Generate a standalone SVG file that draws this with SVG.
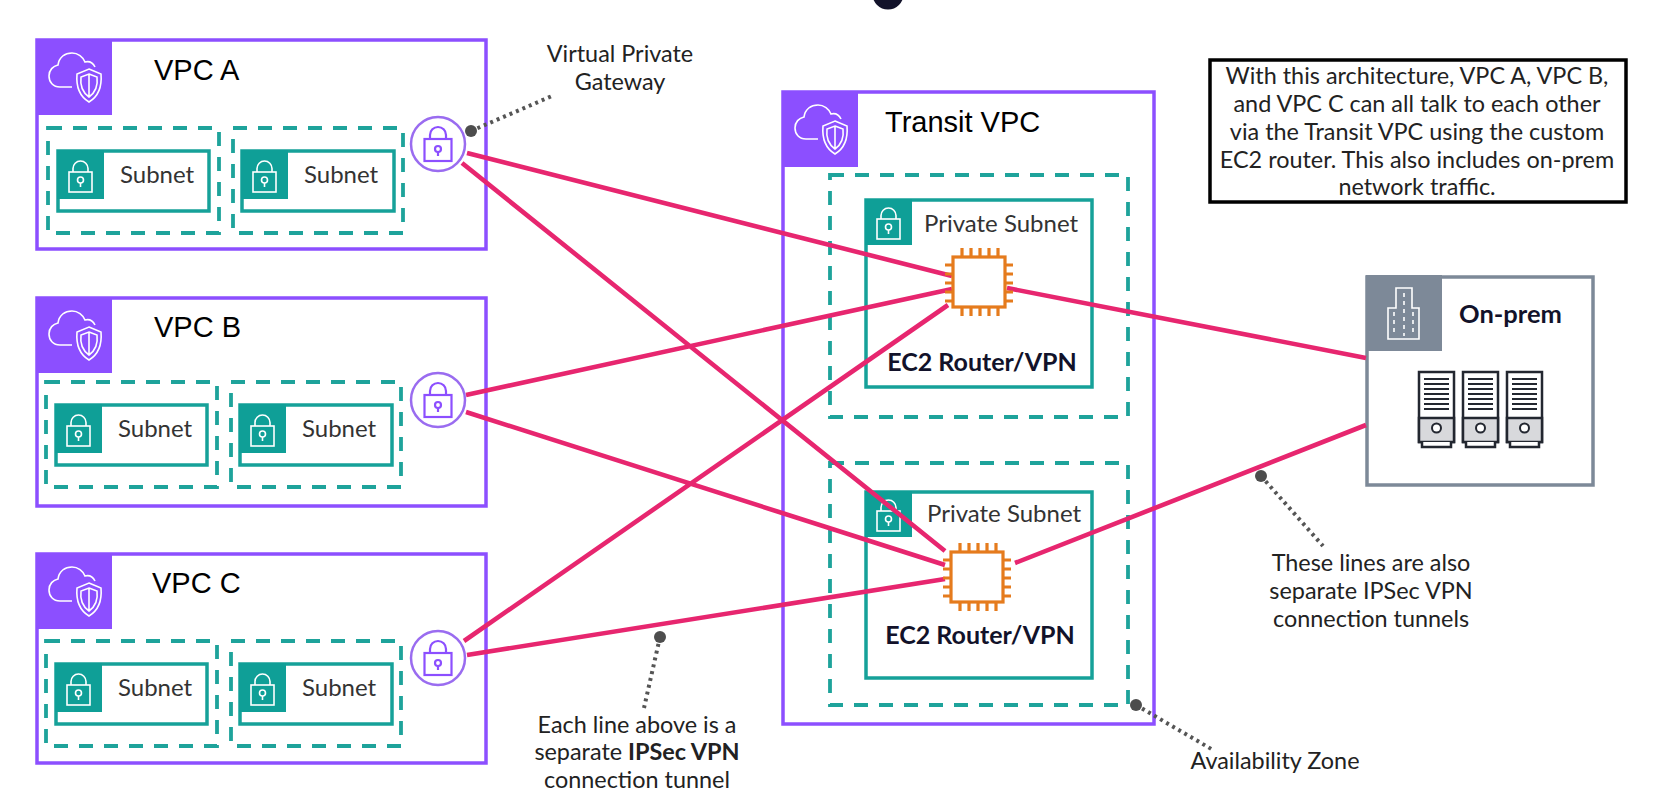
<svg xmlns="http://www.w3.org/2000/svg" width="1661" height="810" viewBox="0 0 1661 810">
<style>
text{font-family:"Lato","Liberation Sans",sans-serif;fill:#232f3e}
.t{font-family:"Liberation Sans",Arial,sans-serif;font-size:29px;fill:#000}
.l{font-size:23.400px;text-anchor:middle;fill:#222}
.sn{font-size:24px;fill:#333}
.b{font-weight:700;font-size:25px;fill:#12122a;text-anchor:middle}
.vpc{fill:#fff;stroke:#8c4fff;stroke-width:3.5}
.ptag{fill:#8c4fff}
.zone{fill:none;stroke:#1ea39b;stroke-width:3.8;stroke-dasharray:14 11}
.sub{fill:#fff;stroke:#16a199;stroke-width:3.5}
.stag{fill:#0f9f97}
.ic{fill:none;stroke:#fff;stroke-width:1.6}
.gw{fill:#fff;stroke:#9a6cf0;stroke-width:2.5}
.gi{fill:none;stroke:#8c4fff;stroke-width:2.2}
.conn{stroke:#e7266f;stroke-width:4.6;fill:none}
.lead{stroke:#555;stroke-width:4;stroke-dasharray:3 4;fill:none}
.dot{fill:#4d4d4d}
.chip{fill:#fff;stroke:#e57b1d;stroke-width:3.2}
.pin{stroke:#e57b1d;stroke-width:3.2;fill:none}
.srv{fill:#fff;stroke:#232730;stroke-width:2.5}
.srvb{fill:#d8d9dc;stroke:#232730;stroke-width:2.5}
</style>
<defs>
<g id="cloud"><path class="ic" d="M36 48H24C17 48 13 43 13 37C13 31 17 27 22 26C23 18 29 14 36 14C42 14 47 18 49 23C53 22 57 24 59 28"/><path class="ic" d="M53 30L65 35C66 47 63 57 53 63C43 57 40 47 41 35Z M53 35L61 38C62 46 60 53 53 58C46 53 44 46 45 38Z M53 36V58"/></g>
<g id="lock"><rect class="ic" x="14" y="22" width="23" height="20"/><path class="ic" d="M18 22V18.500A7.500 7.500 0 0 1 33 18.500V22"/><circle class="ic" cx="25.500" cy="30" r="3"/><path class="ic" d="M25.500 33V37"/></g>
<g id="glock"><rect class="gi" x="-13.500" y="-5" width="27" height="22"/><path class="gi" d="M-8 -5V-9A8 8 0 0 1 8 -9V-5"/><circle class="gi" cx="0" cy="5" r="3"/><path class="gi" d="M0 8V12"/></g>
<g id="gate"><circle class="gw" r="27"/><use href="#glock"/></g>
<g id="subnetPair">
<rect class="zone" x="48" y="128" width="171" height="105"/><rect class="zone" x="233" y="128" width="170" height="105"/>
<rect class="sub" x="58" y="151" width="151" height="60"/><rect class="stag" x="57" y="150" width="47" height="49"/><use href="#lock" x="55" y="150"/>
<rect class="sub" x="242" y="151" width="152" height="60"/><rect class="stag" x="241" y="150" width="47" height="49"/><use href="#lock" x="239" y="150"/>
<text class="sn" x="120" y="183">Subnet</text><text class="sn" x="304" y="183">Subnet</text>
</g>
<g id="chip"><path class="pin" d="M-17-26V-34M-8-26V-34M1-26V-34M10-26V-34M19-26V-34M-17 26V34M-8 26V34M1 26V34M10 26V34M19 26V34M-26-17H-34M-26-8H-34M-26 1H-34M-26 10H-34M-26 19H-34M26-17H34M26-8H34M26 1H34M26 10H34M26 19H34"/><rect class="chip" x="-26" y="-25" width="52" height="50"/></g>
<g id="server"><rect class="srv" x="0" y="0" width="35" height="70"/><rect class="srvb" x="0" y="46" width="35" height="24"/><path class="srv" d="M3 70V75H32V70"/><path d="M5 7H30M5 12H30M5 17H30M5 22H30M5 27H30M5 32H30M5 37H30" stroke="#232730" stroke-width="2"/><circle cx="17.500" cy="56" r="4.500" fill="#fff" stroke="#232730" stroke-width="2"/></g>
</defs>
<circle cx="888" cy="-6" r="15.500" fill="#12122a"/>
<g id="vpc-a"><rect class="vpc" x="37" y="40" width="449" height="209"/><rect class="ptag" x="36" y="39" width="76" height="76"/><use href="#cloud" x="36" y="39"/><text class="t" x="154" y="80">VPC A</text><use href="#subnetPair"/></g>
<g id="vpc-b"><rect class="vpc" x="37" y="298" width="449" height="208"/><rect class="ptag" x="36" y="297" width="76" height="76"/><use href="#cloud" x="36" y="297"/><text class="t" x="154" y="337">VPC B</text><use href="#subnetPair" x="-2" y="254"/></g>
<g id="vpc-c"><rect class="vpc" x="37" y="554" width="449" height="209"/><rect class="ptag" x="36" y="553" width="76" height="76"/><use href="#cloud" x="36" y="553"/><text class="t" x="152" y="593">VPC C</text><use href="#subnetPair" x="-2" y="513"/></g>
<g id="transit-vpc"><rect class="vpc" x="783" y="92" width="371" height="632"/><rect class="ptag" x="782" y="91" width="76" height="76"/><use href="#cloud" x="782" y="91"/><text class="t" x="885" y="132">Transit VPC</text></g>
<g id="az-1"><rect class="zone" x="830" y="175" width="298" height="242"/></g>
<g id="az-2"><rect class="zone" x="830" y="463" width="298" height="242"/></g>
<g id="subnet-1"><rect class="sub" x="866" y="200" width="226" height="187"/><rect class="stag" x="865" y="199" width="47" height="46"/><use href="#lock" x="863" y="197"/><text class="sn" x="924" y="232">Private Subnet</text><text class="b" x="982" y="371">EC2 Router/VPN</text></g>
<g id="subnet-2"><rect class="sub" x="866" y="492" width="226" height="186"/><rect class="stag" x="865" y="491" width="47" height="46"/><use href="#lock" x="863" y="489"/><text class="sn" x="927" y="522">Private Subnet</text><text class="b" x="980" y="644">EC2 Router/VPN</text></g>
<g id="on-prem"><rect x="1367" y="277" width="226" height="208" fill="#fff" stroke="#7d8998" stroke-width="3.500"/><rect x="1366" y="275" width="76" height="76" fill="#7d8998"/><path class="ic" d="M1388 339V308H1396V288H1412V308H1419V339Z"/><path class="ic" stroke-dasharray="4 4" d="M1394 312V336M1404 293V336M1413 312V336"/><text x="1459" y="323" font-size="25.500" font-weight="700" style="fill:#12122a">On-prem</text><use href="#server" x="1419" y="372"/><use href="#server" x="1463" y="372"/><use href="#server" x="1507" y="372"/></g>
<g id="connectors">
<path class="conn" d="M467 153L952 276M462 163L945 551M466 395L952 289M466 412L945 565M464 641L948 305M467 655L945 579M1007 288L1366 358M1015 563L1366 425"/>
<path class="lead" d="M471 131L552 96M660 637L644 708M1261 476L1323 546M1136 705L1213 750"/>
<circle class="dot" cx="471" cy="131" r="6"/><circle class="dot" cx="660" cy="637" r="6"/><circle class="dot" cx="1261" cy="476" r="6"/><circle class="dot" cx="1136" cy="705" r="6"/>
</g>
<use id="gw-a" href="#gate" x="438" y="144"/><use id="gw-b" href="#gate" x="438" y="400"/><use id="gw-c" href="#gate" x="438" y="658"/>
<use id="chip-1" href="#chip" x="979" y="282"/><use id="chip-2" href="#chip" x="977" y="577"/>
<g id="note"><rect x="1210" y="60" width="416" height="142" fill="#fff" stroke="#000" stroke-width="3.500"/>
<text class="l" x="1417" y="84">With this architecture, VPC A, VPC B,</text><text class="l" x="1417" y="112">and VPC C can all talk to each other</text><text class="l" x="1417" y="140">via the Transit VPC using the custom</text><text class="l" x="1417" y="168">EC2 router. This also includes on-prem</text><text class="l" x="1417" y="195">network traffic.</text></g>
<g id="labels">
<text class="l" x="620" y="62">Virtual Private</text><text class="l" x="620" y="90">Gateway</text>
<text class="l" x="637" y="733">Each line above is a</text><text class="l" x="637" y="760">separate <tspan font-weight="700">IPSec VPN</tspan></text><text class="l" x="637" y="788">connection tunnel</text>
<text class="l" x="1371" y="571">These lines are also</text><text class="l" x="1371" y="599">separate IPSec VPN</text><text class="l" x="1371" y="627">connection tunnels</text>
<text class="l" x="1275" y="769">Availability Zone</text>
</g>
</svg>
